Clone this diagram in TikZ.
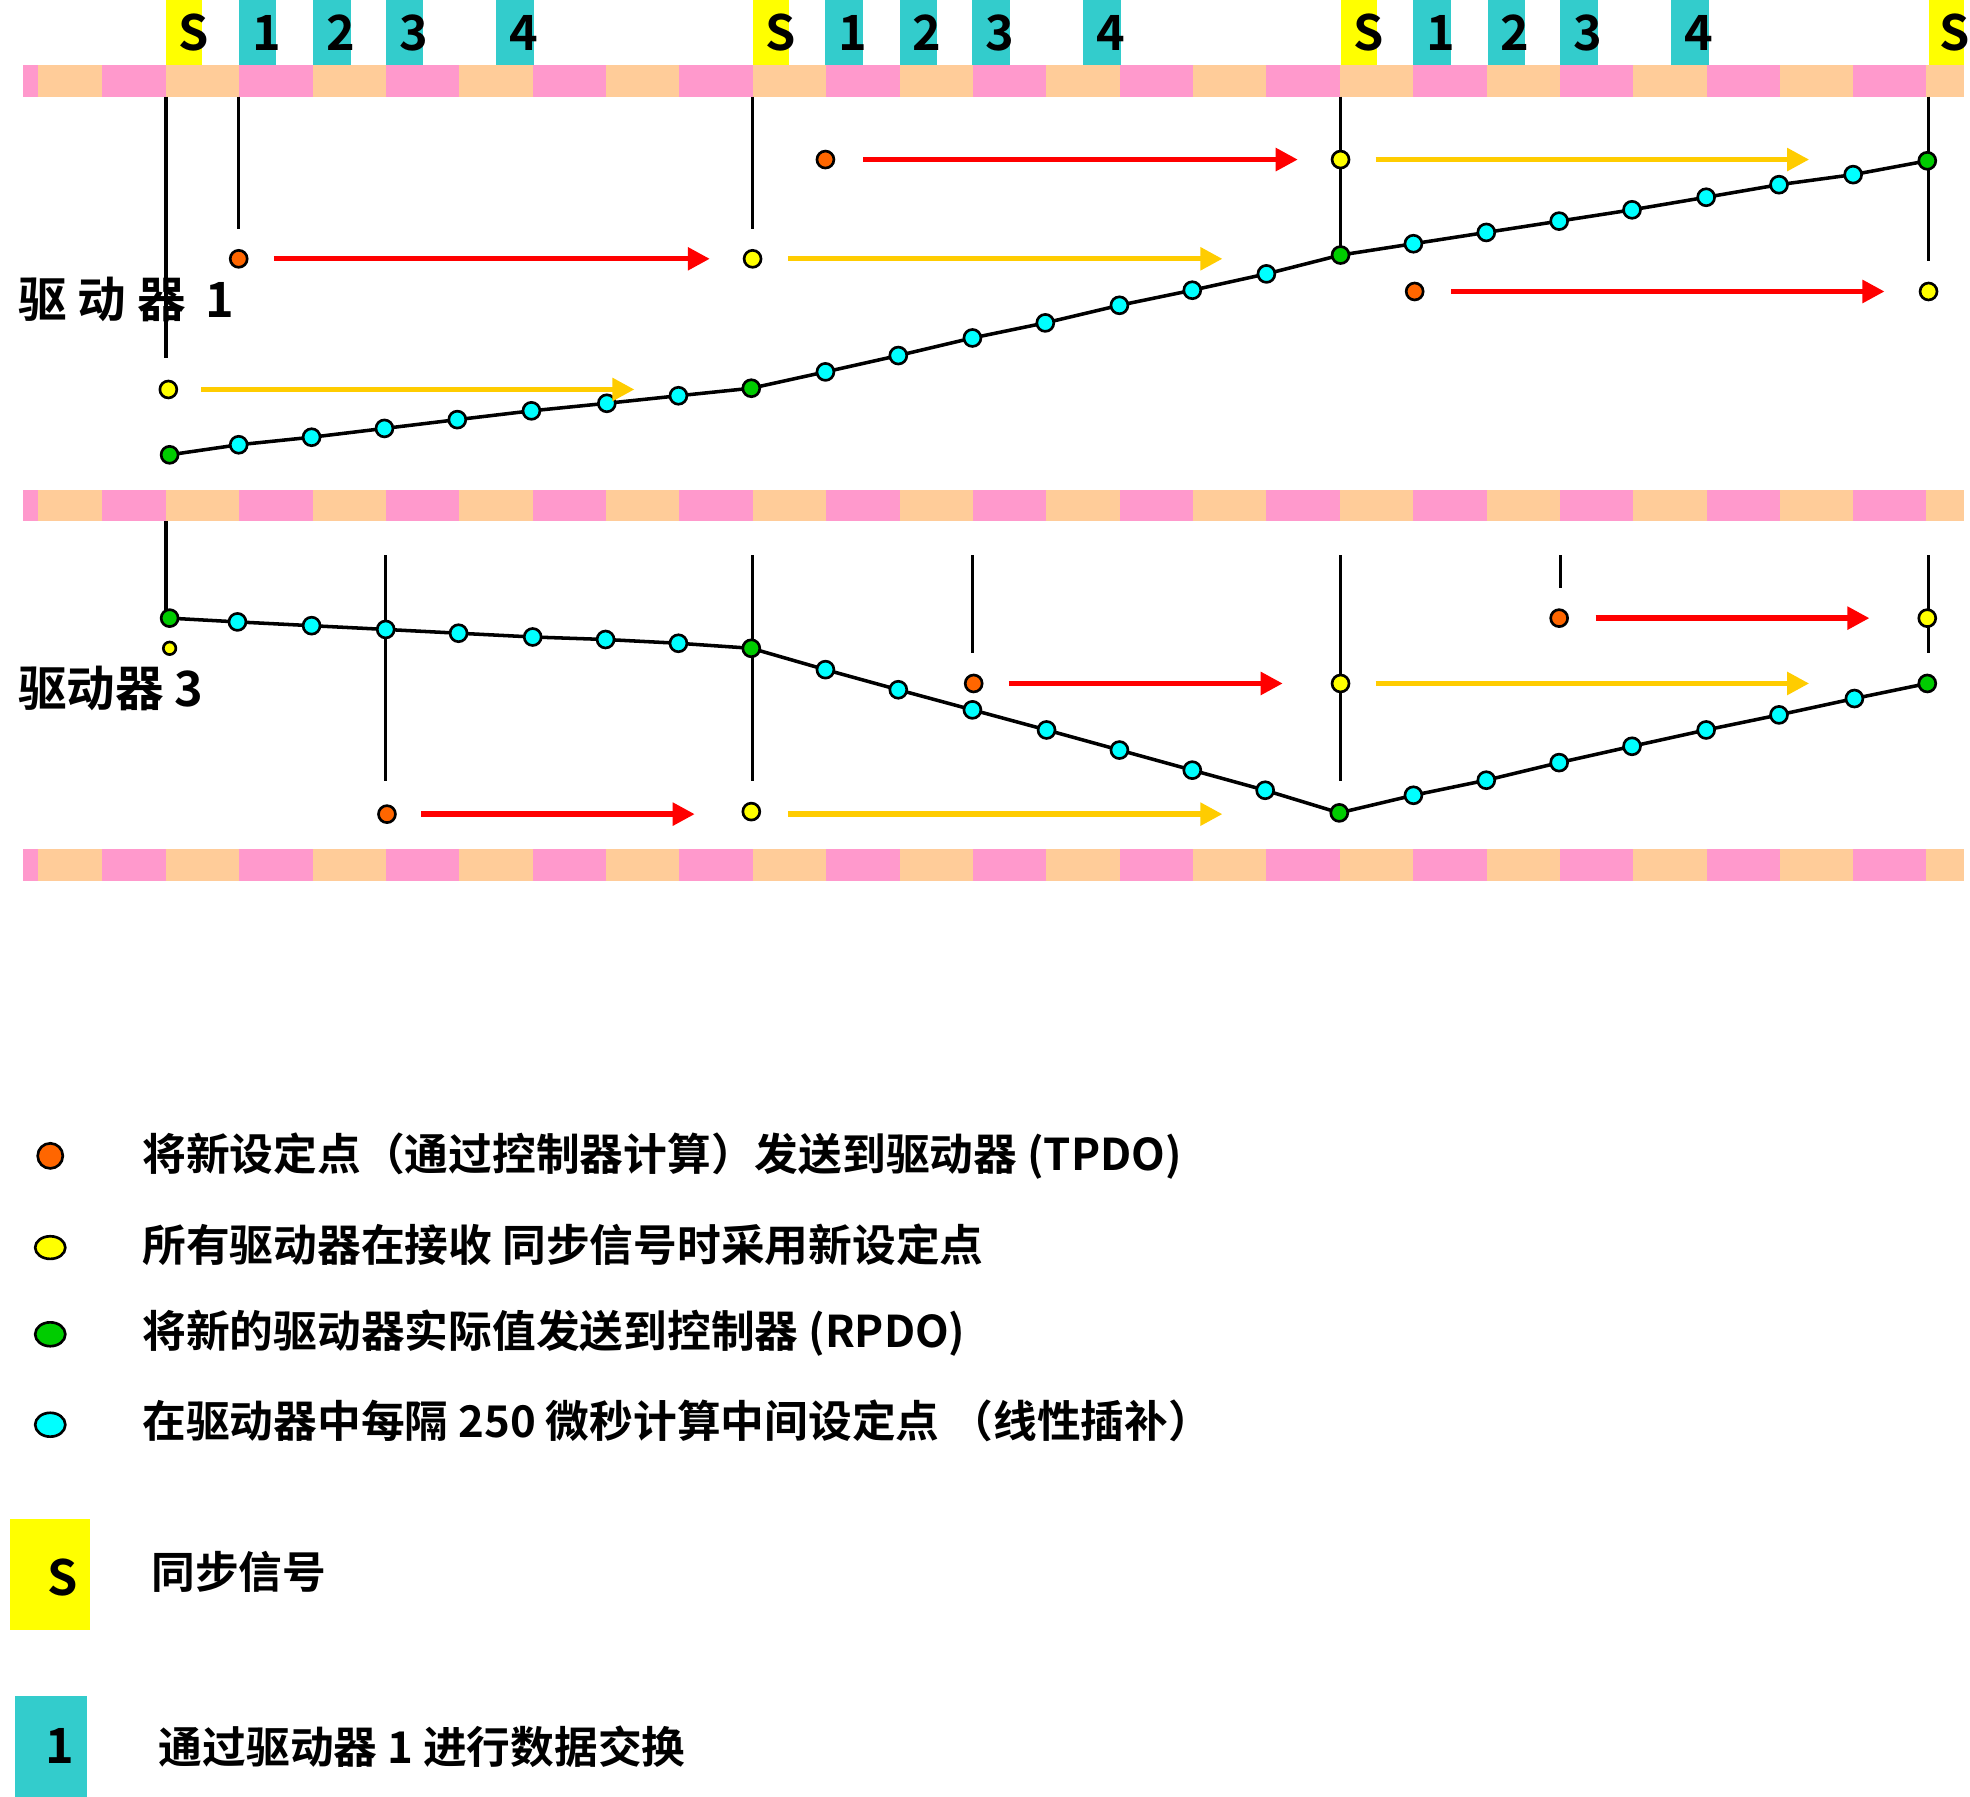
\documentclass[tikz,border=0pt]{standalone}
\usepackage{fontspec}
\setmainfont{Noto Sans CJK SC}[BoldFont={Noto Sans CJK SC Bold}]
\usepackage{xcolor}
\usetikzlibrary{arrows.meta,positioning,calc,shapes.geometric}
\definecolor{barpink}{RGB}{255,153,204}
\definecolor{barorange}{RGB}{255,204,153}
\definecolor{syncyellow}{RGB}{255,255,0}
\definecolor{slotteal}{RGB}{51,204,204}
\definecolor{dotorange}{RGB}{255,102,0}
\definecolor{dotyellow}{RGB}{255,255,0}
\definecolor{dotgreen}{RGB}{0,204,0}
\definecolor{dotcyan}{RGB}{0,255,255}
\definecolor{arrred}{RGB}{255,0,0}
\definecolor{arryellow}{RGB}{255,204,0}

\begin{document}
\begin{tikzpicture}[
        x=0.01cm, y=-0.01cm,
        every node/.style={font=\bfseries\fontsize{11}{13}\selectfont},
        legend/.style={anchor=west, font=\bfseries\fontsize{9.9}{12}\selectfont},
        dot/.style={circle, draw, line width=0.6pt, inner sep=0pt, minimum size=0.135cm},
        tdot/.style={dot, fill=dotorange},
        ydot/.style={dot, fill=dotyellow},
        gdot/.style={dot, fill=dotgreen},
        cdot/.style={dot, fill=dotcyan},
        redarrow/.style={draw=arrred, line width=1.2pt, -{Triangle[length=5pt,width=5pt]}},
        yelarrow/.style={draw=arryellow, line width=1.2pt, -{Triangle[length=5pt,width=5pt]}},
        marker/.style={draw, line width=0.8pt},
        slot/.style={fill=slotteal}
    ]
        \useasboundingbox (0,0) rectangle (1568,1430);

        % Time bars
        \foreach \yb in {52,390,676} {
            \fill[barpink] (18,\yb) rectangle (30,\yb+25);
            \fill[barorange] (30,\yb) rectangle (81,\yb+25);
            \fill[barpink] (81,\yb) rectangle (132,\yb+25);
            \foreach \k in {0,...,23} {
                \pgfmathsetmacro{\xa}{132+58.4*\k}
                \pgfmathtruncatemacro{\odd}{mod(\k,2)}
                \ifnum\odd=0 \fill[barorange] (\xa,\yb) rectangle (\xa+58.4,\yb+25);
                \else \fill[barpink] (\xa,\yb) rectangle (\xa+58.4,\yb+25); \fi
            }
            \fill[barorange] (1533,\yb) rectangle (1563,\yb+25);
        }

        % Sync and slot boxes
        \foreach \xs in {132,599,1067} {
            \fill[syncyellow] (\xs,0) rectangle (\xs+29,52);
            \node at (\xs+22,26) {S};
            \foreach \off/\lbl in {58/1,117/2,175/3,263/4} {
                \fill[slot] (\xs+\off,0) rectangle (\xs+\off+30,52);
                \node at (\xs+\off+22,26) {\lbl};
            }
        }
        \fill[syncyellow] (1535,0) rectangle (1563,52);
        \node at (1556,26) {S};

        % Drive 1
        \node[anchor=west] (drv1) at (2,238) {驱 动 器 \,1};
        \draw[marker] (132,77) -- (132,285);
        \draw[marker] (190,77) -- (190,182);
        \draw[marker] (599,77) -- (599,182);
        \draw[marker] (1067,77) -- (1067,203);
        \draw[marker] (1535,77) -- (1535,208);

        \draw[line width=0.8pt] plot coordinates {(135,362) (190,354) (248,348) (306,341) (364,334) (423,327) (483,321) (540,315) (598,309) (657,296) (715,283) (774,269) (832,257) (891,243) (949,231) (1008,218) (1067,203) (1125,194) (1183,185) (1241,176) (1299,167) (1358,157) (1416,147) (1475,139) (1534,128)};
        \foreach \px/\py in {190/354,248/348,306/341,364/334,423/327,483/321,540/315,657/296,715/283,774/269,832/257,891/243,949/231,1008/218,1125/194,1183/185,1241/176,1299/167,1358/157,1416/147,1475/139}
            \node[cdot] at (\px,\py) {};
        \foreach \px/\py in {135/362,598/309,1067/203,1534/128}
            \node[gdot] at (\px,\py) {};

        \node[ydot] (ya1) at (134,310) {};
        \node[tdot] (ta1) at (190,206) {};
        \node[ydot] (ya2) at (599,206) {};
        \node[tdot] (ta2) at (657,127) {};
        \node[ydot] (ya3) at (1067,127) {};
        \node[tdot] (ta3) at (1126,232) {};
        \node[ydot] (ya4) at (1535,232) {};
        \draw[yelarrow] ($(ya1)+(26,0)$) -- ++(345,0);
        \draw[redarrow] ($(ta1)+(28,0)$) -- ++(347,0);
        \draw[yelarrow] ($(ya2)+(28,0)$) -- ++(346,0);
        \draw[redarrow] ($(ta2)+(30,0)$) -- ++(346,0);
        \draw[yelarrow] ($(ya3)+(28,0)$) -- ++(345,0);
        \draw[redarrow] ($(ta3)+(29,0)$) -- ++(345,0);

        % Drive 3
        \node[anchor=west] (drv3) at (2,548) {驱动器 3};
        \draw[marker] (132,415) -- (132,492);
        \foreach \xm in {307,599,1067} \draw[marker] (\xm,442) -- (\xm,622);
        \draw[marker] (774,442) -- (774,520);
        \draw[marker] (1242,442) -- (1242,468);
        \draw[marker] (1535,442) -- (1535,520);

        \draw[line width=0.8pt] plot coordinates {(135,492) (189,495) (248,498) (307,501) (365,504) (424,507) (482,509) (540,512) (598,516) (657,533) (715,549) (774,565) (833,581) (891,597) (949,613) (1007,629) (1066,647) (1125,633) (1183,621) (1241,607) (1299,594) (1358,581) (1416,569) (1476,556) (1534,544)};
        \foreach \px/\py in {189/495,248/498,307/501,365/504,424/507,482/509,540/512,657/533,715/549,774/565,833/581,891/597,949/613,1007/629,1125/633,1183/621,1241/607,1299/594,1358/581,1416/569,1476/556}
            \node[cdot] at (\px,\py) {};
        \foreach \px/\py in {135/492,598/516,1066/647,1534/544}
            \node[gdot] at (\px,\py) {};

        \node[ydot, minimum size=0.1cm] (yb1) at (135,516) {};
        \node[tdot] (tb1) at (308,648) {};
        \node[ydot] (yb2) at (598,646) {};
        \node[tdot] (tb2) at (775,544) {};
        \node[ydot] (yb3) at (1067,544) {};
        \node[tdot] (tb3) at (1241,492) {};
        \node[ydot] (yb4) at (1534,492) {};
        \draw[redarrow] ($(tb1)+(27,0)$) -- ++(218,0);
        \draw[yelarrow] ($(yb2)+(29,2)$) -- ++(346,0);
        \draw[redarrow] ($(tb2)+(28,0)$) -- ++(218,0);
        \draw[yelarrow] ($(yb3)+(28,0)$) -- ++(345,0);
        \draw[redarrow] ($(tb3)+(29,0)$) -- ++(218,0);

        % Legend
        \node[tdot, minimum size=0.2cm] (lg1) at (40,920) {};
        \node[ydot, ellipse, minimum width=0.24cm, minimum height=0.18cm] (lg2) at (40,993) {};
        \node[gdot, ellipse, minimum width=0.24cm, minimum height=0.19cm] (lg3) at (40,1062) {};
        \node[cdot, ellipse, minimum width=0.24cm, minimum height=0.19cm] (lg4) at (40,1134) {};
        \node[legend] (txt1) at (101,920) {将新设定点（通过控制器计算）发送到驱动器 (TPDO)};
        \node[legend] (txt2) at (101,991) {所有驱动器在接收 同步信号时采用新设定点};
        \node[legend] (txt3) at (101,1061) {将新的驱动器实际值发送到控制器 (RPDO)};
        \node[legend] (txt4) at (101,1131) {在驱动器中每隔 250 微秒计算中间设定点 （线性插补）};

        \fill[syncyellow] (8,1209) rectangle (72,1297);
        \node at (50,1256) {S};
        \node[legend] (txt5) at (108,1251) {同步信号};
        \fill[slot] (12,1350) rectangle (69,1430);
        \node at (48,1390) {1};
        \node[legend] (txt6) at (114,1390) {通过驱动器 1 进行数据交换};
    \end{tikzpicture}
\end{document}
